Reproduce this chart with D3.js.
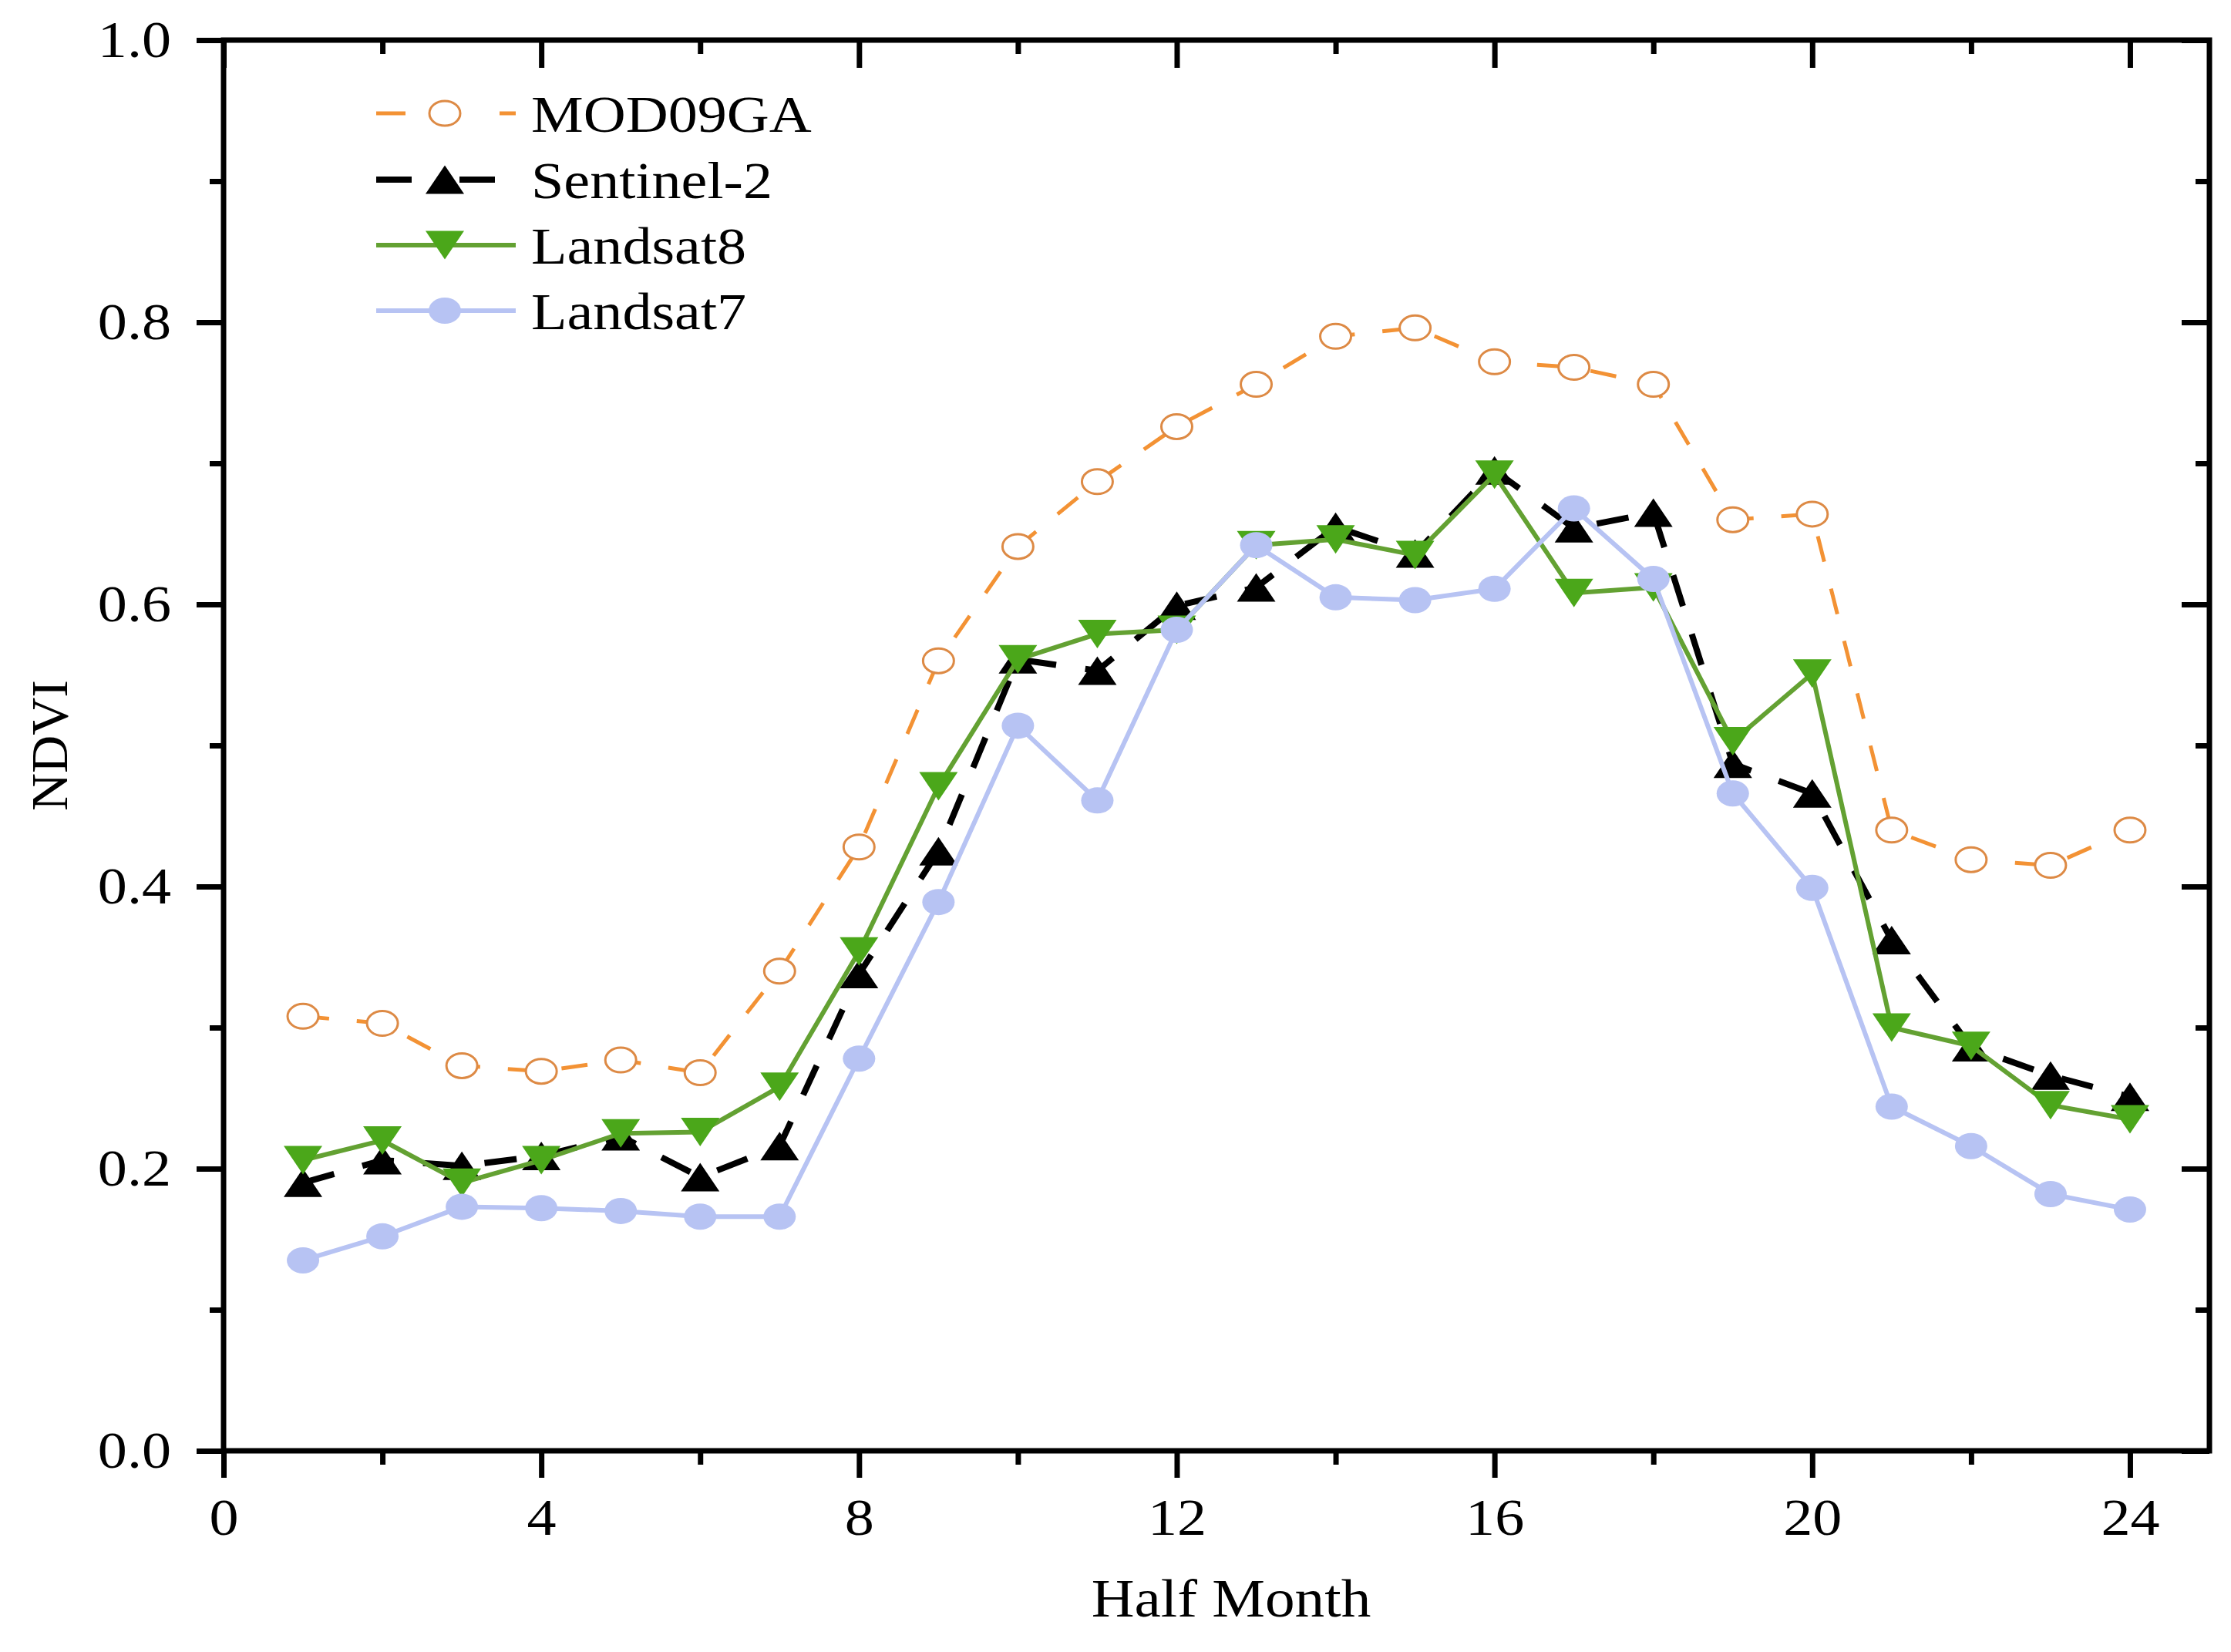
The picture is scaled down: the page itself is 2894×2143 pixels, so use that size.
<!DOCTYPE html>
<html><head><meta charset="utf-8">
<script src="https://cdn.jsdelivr.net/npm/d3@7/dist/d3.min.js"></script>
<style>html,body{margin:0;padding:0;background:#fff;} svg{display:block;}</style>
</head><body>
<script>
// ---- data ----
const halfMonth = [1,2,3,4,5,6,7,8,9,10,11,12,13,14,15,16,17,18,19,20,21,22,23,24];
const mod09ga   = [0.308,0.303,0.273,0.269,0.277,0.268,0.340,0.428,0.560,0.641,0.687,0.726,0.756,0.790,0.796,0.772,0.768,0.756,0.660,0.664,0.440,0.419,0.415,0.440];
const sentinel2 = [0.190,0.206,0.202,0.209,0.223,0.194,0.216,0.338,0.425,0.561,0.553,0.599,0.612,0.655,0.636,0.695,0.654,0.665,0.487,0.466,0.362,0.286,0.266,0.251];
const landsat8  = [0.206,0.220,0.190,0.206,0.225,0.226,0.258,0.354,0.471,0.561,0.579,0.582,0.642,0.646,0.635,0.692,0.608,0.612,0.503,0.551,0.300,0.287,0.245,0.235];
const landsat7  = [0.135,0.152,0.173,0.172,0.170,0.166,0.166,0.278,0.389,0.514,0.461,0.582,0.642,0.605,0.603,0.611,0.668,0.618,0.466,0.399,0.244,0.216,0.182,0.171];
const seriesNames = ["MOD09GA","Sentinel-2","Landsat8","Landsat7"];
const xMajorTicks = [0,4,8,12,16,20,24];
const xMinorTicks = [2,6,10,14,18,22];
const yMajorTicks = [0.0,0.2,0.4,0.6,0.8,1.0];
const yMinorTicks = [0.1,0.3,0.5,0.7,0.9];

// ---- layout ----
const W = 2894, H = 2143;
const L = 290, R = 2866, T = 52, B = 1882;
const FONT = "'Liberation Serif','Times New Roman',serif";
const SX = 1.12; // horizontal text stretch seen in the reference

const svg = d3.select("body").append("svg").attr("width", W).attr("height", H);
svg.append("rect").attr("width", W).attr("height", H).attr("fill", "#fff");

const x = d3.scaleLinear().domain([0, 25]).range([L, R]);
const y = d3.scaleLinear().domain([0, 1]).range([B, T]);

const series = [
  {name: seriesNames[0], values: mod09ga, line: "#F39234", width: 5, dash: "34,36", legDash: "38,122,21", marker: "circleOpen", mfill: "#fff", mstroke: "#DD8A45"},
  {name: seriesNames[1], values: sentinel2, line: "#000", width: 8, dash: "42,38", legDash: "46,62,46", marker: "triUp", mfill: "#000", mstroke: "none"},
  {name: seriesNames[2], values: landsat8, line: "#63A132", width: 6, dash: null, legDash: null, marker: "triDown", mfill: "#4BA71A", mstroke: "none"},
  {name: seriesNames[3], values: landsat7, line: "#B7C3F3", width: 6, dash: null, legDash: null, marker: "circle", mfill: "#B7C3F3", mstroke: "none"}
];

const TW = 50, TH = 37, RX = 21, RY = 17;
function drawMarker(g, kind, cx, cy, fill, stroke) {
  if (kind === "circleOpen") {
    g.append("ellipse").attr("cx", cx).attr("cy", cy).attr("rx", RX - 1).attr("ry", RY - 1).attr("fill", fill).attr("stroke", stroke).attr("stroke-width", 3);
  } else if (kind === "circle") {
    g.append("ellipse").attr("cx", cx).attr("cy", cy).attr("rx", RX).attr("ry", RY).attr("fill", fill);
  } else if (kind === "triUp") {
    g.append("path").attr("d", `M${cx - TW/2},${cy + TH/2}L${cx + TW/2},${cy + TH/2}L${cx},${cy - TH/2}Z`).attr("fill", fill);
  } else if (kind === "triDown") {
    g.append("path").attr("d", `M${cx - TW/2},${cy - TH/2}L${cx + TW/2},${cy - TH/2}L${cx},${cy + TH/2}Z`).attr("fill", fill);
  }
}

// ---- axes ----
function styleAxis(g) {
  g.selectAll(".domain").remove();
  g.selectAll("line").attr("stroke", "#000").attr("stroke-width", 7);
  g.selectAll("text").attr("font-family", FONT).attr("font-size", 68).attr("fill", "#000");
}
const fmtY = d3.format(".1f");
svg.append("g").attr("transform", `translate(0,${B})`)
  .call(d3.axisBottom(x).tickValues(xMajorTicks).tickSize(35).tickSizeOuter(0).tickPadding(26).tickFormat(d3.format("d")))
  .call(styleAxis)
  .call(g => g.selectAll("text").attr("transform", `scale(${SX},1)`));
svg.append("g").attr("transform", `translate(0,${B})`)
  .call(d3.axisBottom(x).tickValues(xMinorTicks).tickSize(18).tickSizeOuter(0).tickFormat("")).call(styleAxis);
svg.append("g").attr("transform", `translate(0,${T})`)
  .call(d3.axisTop(x).tickValues(xMajorTicks).tickSize(-36).tickSizeOuter(0).tickFormat("")).call(styleAxis);
svg.append("g").attr("transform", `translate(0,${T})`)
  .call(d3.axisTop(x).tickValues(xMinorTicks).tickSize(-18).tickSizeOuter(0).tickFormat("")).call(styleAxis);
svg.append("g").attr("transform", `translate(${L},0)`)
  .call(d3.axisLeft(y).tickValues(yMajorTicks).tickSize(35).tickSizeOuter(0).tickPadding(33).tickFormat(fmtY))
  .call(styleAxis)
  .call(g => g.selectAll("text").attr("x", -68 / SX).attr("transform", `scale(${SX},1)`));
svg.append("g").attr("transform", `translate(${L},0)`)
  .call(d3.axisLeft(y).tickValues(yMinorTicks).tickSize(18).tickSizeOuter(0).tickFormat("")).call(styleAxis);
svg.append("g").attr("transform", `translate(${R},0)`)
  .call(d3.axisRight(y).tickValues(yMajorTicks).tickSize(-36).tickSizeOuter(0).tickFormat("")).call(styleAxis);
svg.append("g").attr("transform", `translate(${R},0)`)
  .call(d3.axisRight(y).tickValues(yMinorTicks).tickSize(-18).tickSizeOuter(0).tickFormat("")).call(styleAxis);

// frame
svg.append("rect").attr("x", L).attr("y", T).attr("width", R - L).attr("height", B - T)
  .attr("fill", "none").attr("stroke", "#000").attr("stroke-width", 7);

// ---- series ----
const line = d3.line().x((d, i) => x(halfMonth[i])).y(d => y(d));
series.forEach(s => {
  const g = svg.append("g");
  g.append("path").attr("d", line(s.values)).attr("fill", "none")
    .attr("stroke", s.line).attr("stroke-width", s.width)
    .attr("stroke-dasharray", s.dash).attr("stroke-linejoin", "round");
  s.values.forEach((v, i) => drawMarker(g, s.marker, x(halfMonth[i]), y(v), s.mfill, s.mstroke));
});

// ---- legend ----
const legY = [147, 233, 318, 403];
series.forEach((s, i) => {
  const g = svg.append("g");
  g.append("line").attr("x1", 488).attr("x2", 669).attr("y1", legY[i]).attr("y2", legY[i])
    .attr("stroke", s.line).attr("stroke-width", s.width).attr("stroke-dasharray", s.legDash);
  drawMarker(g, s.marker, 577, legY[i], s.mfill, s.mstroke);
  g.append("text").attr("transform", `translate(689,${legY[i]}) scale(${SX},1)`).attr("dy", "0.35em")
    .attr("font-family", FONT).attr("font-size", 68).attr("fill", "#000").text(s.name);
});

// ---- axis titles ----
svg.append("text").attr("transform", `translate(1597,2097) scale(${SX},1)`).attr("text-anchor", "middle")
  .attr("font-family", FONT).attr("font-size", 69).attr("fill", "#000").text("Half Month");
svg.append("text").attr("transform", "translate(63,967) rotate(-90)").attr("dy", "0.35em").attr("text-anchor", "middle")
  .attr("font-family", FONT).attr("font-size", 68).attr("fill", "#000").text("NDVI");
</script>
</body></html>
